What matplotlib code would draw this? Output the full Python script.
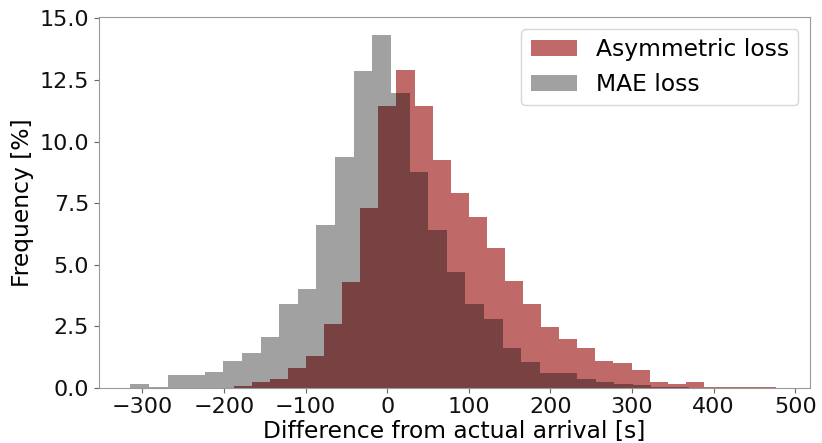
import numpy as np
import matplotlib
matplotlib.use('Agg')
import matplotlib.pyplot as plt

# --- data (percent per bin, 30 bins each) ---
asym_range = (-188.0, 476.7)
asym_freq = [0.08, 0.23, 0.35, 0.80, 1.29, 2.59, 4.31, 7.29, 11.45, 12.91,
             11.45, 9.26, 7.93, 6.93, 5.67, 4.34, 3.39, 2.48, 1.99, 1.61,
             1.09, 1.02, 0.71, 0.23, 0.14, 0.23, 0.04, 0.04, 0.03, 0.03]

mae_range = (-314.6, 369.4)
mae_freq = [0.14, 0.04, 0.52, 0.52, 0.65, 1.10, 1.40, 2.07, 3.39, 4.02,
            6.61, 9.39, 12.87, 14.34, 11.97, 8.78, 6.41, 4.72, 3.40, 2.78,
            1.63, 1.06, 0.58, 0.58, 0.35, 0.22, 0.14, 0.10, 0.04, 0.03]

x_ticks = [-300, -200, -100, 0, 100, 200, 300, 400, 500]
y_ticks = [0.0, 2.5, 5.0, 7.5, 10.0, 12.5, 15.0]

plt.rcParams['font.family'] = ['DejaVu Sans']
plt.rcParams['font.size'] = 16

fig = plt.figure(figsize=(8.22, 4.43), dpi=100)
ax = fig.add_axes([0.1204, 0.1248, 0.865, 0.8357])

def draw(rng, freq, **kw):
    edges = np.linspace(rng[0], rng[1], len(freq) + 1)
    centers = (edges[:-1] + edges[1:]) / 2
    ax.hist(centers, bins=edges, weights=freq, **kw)

draw(asym_range, asym_freq, color='brown', alpha=0.7, label='Asymmetric loss')
draw(mae_range, mae_freq, color='black', alpha=0.37, label='MAE loss')

ax.set_xlim(-353, 518)
ax.set_ylim(0, 15.04)
ax.set_xticks(x_ticks)
ax.set_yticks(y_ticks)
ax.set_yticklabels([f'{v:.1f}' for v in y_ticks])

ax.set_xlabel('Difference from actual arrival [s]', fontsize=16.8, labelpad=1.5)
ax.set_ylabel('Frequency [%]', fontsize=16.8)

for sp in ax.spines.values():
    sp.set_color('0.6')
ax.tick_params(color='0.4', labelcolor='#111111')

ax.legend(loc='upper right', fontsize=16.8)

fig.savefig('out.png', dpi=100)
